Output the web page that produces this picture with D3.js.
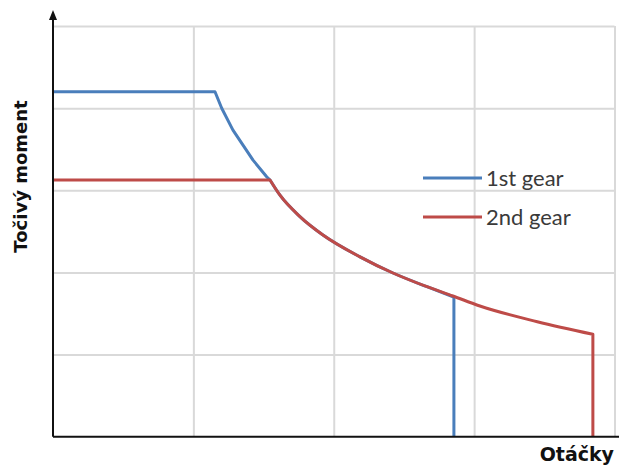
<!DOCTYPE html>
<html><head><meta charset="utf-8">
<script src="https://cdn.jsdelivr.net/npm/d3@7"></script>
<style>html,body{margin:0;padding:0;background:#fff;}svg{display:block;}</style>
</head><body>
<script>
// Data
const gear1Rpm    = [0, 1.154, 1.202, 1.282, 1.425, 1.522, 1.546, 1.617, 1.759, 1.923, 2.187, 2.422, 2.664, 2.856, 2.856];
const gear1Torque = [4.2, 4.2, 3.998, 3.733, 3.367, 3.165, 3.125, 2.94, 2.68, 2.456, 2.19, 1.993, 1.826, 1.70, 0];
const gear2Rpm    = [0, 1.546, 1.617, 1.759, 1.923, 2.187, 2.422, 2.664, 2.849, 3.041, 3.45, 3.846, 3.846];
const gear2Torque = [3.125, 3.125, 2.94, 2.68, 2.456, 2.19, 1.993, 1.826, 1.713, 1.591, 1.40, 1.247, 0];
const curveStartRpm = 1.546; // where the constant-power curve begins
const seriesNames = ["1st gear", "2nd gear"];
const seriesColors = ["#4a7ebb", "#be4b48"];
const xGridTicks = [1, 2, 3, 4];
const yGridTicks = [1, 2, 3, 4, 5];
const xLabel = "Otáčky";
const yLabel = "Točivý moment";

const W = 619, H = 466;
const svg = d3.select("body").append("svg").attr("width", W).attr("height", H);

const x = d3.scaleLinear().domain([0, 4]).range([53, 614.5]);
const y = d3.scaleLinear().domain([0, 5]).range([436.7, 26]);

// gridlines
const gx = svg.append("g").attr("transform", `translate(0,${y(0)})`)
  .call(d3.axisBottom(x).tickValues(xGridTicks).tickSize(-(y(0) - y(5))).tickFormat(""));
const gy = svg.append("g").attr("transform", `translate(${x(0)},0)`)
  .call(d3.axisLeft(y).tickValues(yGridTicks).tickSize(-(x(4) - x(0))).tickFormat(""));
[gx, gy].forEach(g => {
  g.select(".domain").remove();
  g.selectAll(".tick line").attr("stroke", "#d9d9d9").attr("stroke-width", 2);
});

// series: straight segments before the curve, smooth curve, then the vertical drop
const lineLin = d3.line().x(d => x(d[0])).y(d => y(d[1]));
const lineSmooth = d3.line().x(d => x(d[0])).y(d => y(d[1])).curve(d3.curveMonotoneX);
const s1 = gear1Rpm.map((r, i) => [r, gear1Torque[i]]);
const s2 = gear2Rpm.map((r, i) => [r, gear2Torque[i]]);
[s1, s2].forEach((s, i) => {
  const k = s.findIndex(p => p[0] >= curveStartRpm);
  const head = s.slice(0, k + 1);
  const body = s.slice(k, -1);
  const last = s[s.length - 1];
  const d = lineLin(head) + lineSmooth(body).replace(/^M/, "L") + `L${x(last[0])},${y(last[1])}`;
  svg.append("path").attr("d", d)
    .attr("fill", "none").attr("stroke", seriesColors[i])
    .attr("stroke-width", 3).attr("stroke-linejoin", "round");
});

// axes
svg.append("line").attr("x1", x(0)).attr("x2", W).attr("y1", y(0)).attr("y2", y(0))
  .attr("stroke", "#111").attr("stroke-width", 2);
svg.append("line").attr("x1", x(0)).attr("x2", x(0)).attr("y1", y(0)).attr("y2", 18)
  .attr("stroke", "#111").attr("stroke-width", 2);
svg.append("path").attr("d", `M${x(0)},10 L${x(0) - 4},20 L${x(0) + 4},20 Z`).attr("fill", "#111");

// axis labels
svg.append("text").attr("x", 614).attr("y", 460.5).attr("text-anchor", "end")
  .attr("font-family", "DejaVu Sans").attr("font-weight", "bold").attr("font-size", 19)
  .attr("fill", "#111").text(xLabel);
svg.append("text").attr("transform", "translate(26.5,176.5) rotate(-90)").attr("text-anchor", "middle")
  .attr("font-family", "DejaVu Sans").attr("font-weight", "bold").attr("font-size", 18)
  .attr("fill", "#111").text(yLabel);

// legend
const leg = svg.append("g");
seriesNames.forEach((n, i) => {
  const ly = 178 + i * 39;
  leg.append("line").attr("x1", 423).attr("x2", 482).attr("y1", ly).attr("y2", ly)
    .attr("stroke", seriesColors[i]).attr("stroke-width", 3);
  leg.append("text").attr("x", 486).attr("y", ly + 8)
    .attr("font-family", "Lato").attr("font-size", 22).attr("fill", "#3a3a3a").text(n);
});
</script>
</body></html>
